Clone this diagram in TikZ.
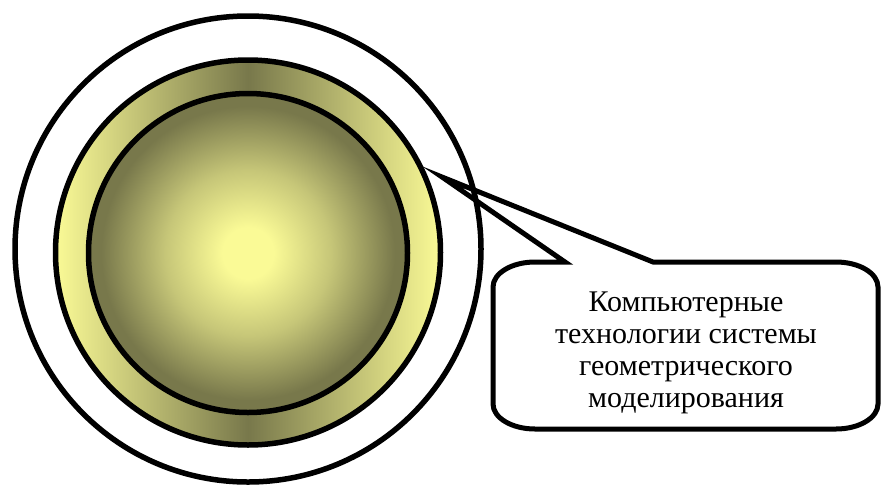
\documentclass[tikz,border=0pt]{standalone}
\usepackage{fontspec}
\setmainfont{Liberation Serif}
\definecolor{glowbright}{RGB}{250,250,150}
\definecolor{glowdark}{RGB}{120,120,75}
\colorlet{glowmid}{glowbright!60!glowdark}
\pgfdeclareradialshading{innerglow}{\pgfpoint{0bp}{0bp}}{%
  color(0bp)=(glowbright); color(4bp)=(glowbright); color(13bp)=(glowmid);
  color(23bp)=(glowdark); color(25bp)=(glowdark); color(50bp)=(glowdark)}
\tikzset{
  ringline/.style={line width=5.5pt, draw=black},
  calloutline/.style={line width=5pt, draw=black, line join=miter, miter limit=20},
  callouttext/.style={align=center, font=\fontsize{30}{32}\selectfont, inner sep=0pt}
}
\begin{document}
\begin{tikzpicture}[x=1pt, y=-1pt]
\useasboundingbox (0,0) rectangle (881,488);
% outer white circle
\draw[ringline] (248,249) circle[radius=233];
% yellow ring with horizontal gradient
\shade[left color=glowbright, right color=glowbright, middle color=glowdark]
  (248,252.5) circle[radius=192.5];
\draw[ringline] (248,252.5) circle[radius=192.5];
% inner circle with radial gradient
\shade[shading=innerglow] (248,253) circle[radius=159.5];
\draw[ringline] (248,253) circle[radius=159.5];
% callout
\coordinate (tip) at (442,177);
\draw[calloutline]
  (tip) -- (653,262) -- (836,262)
  .. controls (859.2,262) and (878,273.2) .. (878,287)
  -- (878,404)
  .. controls (878,417.8) and (859.2,429) .. (836,429)
  -- (535,429)
  .. controls (511.8,429) and (493,417.8) .. (493,404)
  -- (493,287)
  .. controls (493,273.2) and (511.8,262) .. (535,262)
  -- (565,262) -- cycle;
\node[callouttext] (label) at (686,353) {Компьютерные\\технологии системы\\геометрического\\моделирования};
\end{tikzpicture}
\end{document}
